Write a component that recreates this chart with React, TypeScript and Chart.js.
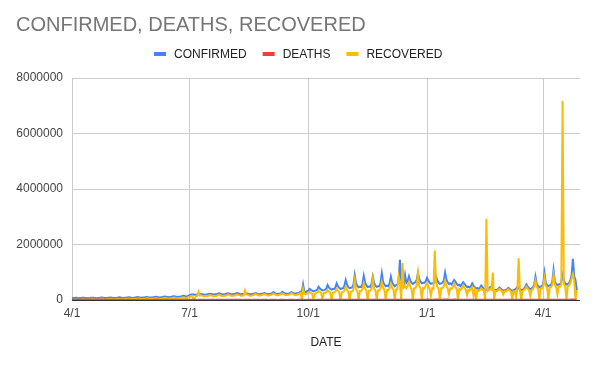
import { useEffect, useRef } from 'react';
import { Chart, registerables } from 'chart.js';

Chart.register(...registerables);

const FONT = '"Liberation Sans", Arial, sans-serif';
const TITLE = 'CONFIRMED, DEATHS, RECOVERED';
const X_TITLE = 'DATE';
const START_DATE = '2020-04-01';
const TICK_DATES = ['2020-04-01', '2020-07-01', '2020-10-01', '2021-01-01', '2021-04-01'];
const TICK_LABELS = ['4/1', '7/1', '10/1', '1/1', '4/1'];
const X_END_DATE = '2021-04-30';
const Y_TICKS = [0, 2000000, 4000000, 6000000, 8000000];
const SERIES_NAMES = ['CONFIRMED', 'DEATHS', 'RECOVERED'];
const SERIES_COLORS = ['#4285F4', '#EA4335', '#FBBC04'];
const UNIT = 1000; // values below are in thousands, one per day from START_DATE

const CONFIRMED_K = [
  62, 70, 75, 80, 72, 65, 68,
  70, 78, 82, 76, 70, 62, 66,
  72, 80, 84, 78, 74, 66, 70,
  75, 82, 88, 80, 73, 68, 72,
  78, 85, 90, 84, 76, 70, 74,
  80, 88, 95, 86, 78, 72, 78,
  84, 92, 98, 90, 82, 76, 82,
  88, 96, 104, 95, 86, 80, 86,
  92, 102, 110, 100, 92, 86, 92,
  98, 108, 118, 108, 98, 92, 100,
  105, 116, 126, 115, 104, 98, 108,
  115, 126, 138, 126, 114, 108, 120,
  128, 140, 155, 142, 130, 124, 150,
  175, 195, 210, 200, 190, 185, 195,
  200, 210, 218, 210, 200, 192, 202,
  205, 215, 225, 216, 205, 196, 206,
  210, 225, 240, 226, 212, 200, 212,
  215, 232, 245, 230, 216, 206, 216,
  218, 235, 248, 232, 218, 208, 218,
  216, 230, 244, 230, 216, 206, 214,
  218, 232, 246, 234, 220, 208, 216,
  222, 236, 250, 236, 224, 212, 220,
  225, 245, 285, 248, 230, 216, 224,
  230, 250, 295, 255, 235, 222, 230,
  235, 255, 280, 258, 240, 230, 240,
  245, 270, 305, 285, 560, 290, 280,
  320, 340, 400, 365, 340, 315, 330,
  345, 375, 480, 415, 375, 345, 355,
  370, 410, 540, 455, 405, 375, 395,
  395, 445, 600, 495, 435, 395, 415,
  425, 515, 720, 555, 475, 425, 445,
  455, 555, 900, 615, 515, 455, 475,
  465, 575, 870, 635, 535, 465, 485,
  475, 575, 840, 615, 525, 475, 495,
  495, 615, 960, 655, 555, 495, 515,
  495, 595, 840, 635, 555, 495, 535,
  555, 695, 1450, 715, 615, 555, 900,
  620, 680, 850, 700, 620, 580, 620,
  640, 720, 970, 760, 660, 600, 620,
  620, 680, 800, 700, 620, 580, 600,
  600, 660, 840, 700, 620, 580, 600,
  620, 700, 990, 740, 640, 580, 600,
  560, 640, 720, 660, 580, 530, 550,
  500, 560, 640, 580, 520, 470, 480,
  450, 500, 600, 520, 470, 420, 430,
  400, 440, 520, 460, 410, 370, 380,
  370, 410, 470, 420, 380, 350, 360,
  360, 400, 450, 410, 370, 340, 350,
  350, 390, 440, 400, 360, 330, 350,
  370, 420, 480, 430, 390, 350, 370,
  400, 460, 560, 480, 420, 390, 410,
  450, 540, 840, 580, 500, 460, 480,
  500, 580, 970, 620, 540, 500, 520,
  540, 640, 1080, 680, 580, 540, 560,
  560, 660, 900, 700, 600, 560, 580,
  600, 720, 900, 1480, 850, 720, 360,
];

const DEATHS_K = [
  5, 6, 7, 7, 6, 5, 5,
  6, 7, 8, 8, 7, 6, 5,
  6, 7, 8, 8, 7, 6, 5,
  5, 6, 7, 7, 6, 5, 4,
  4, 5, 6, 6, 5, 4, 4,
  4, 5, 6, 5, 5, 4, 4,
  4, 5, 5, 5, 4, 4, 3,
  4, 5, 5, 5, 4, 4, 3,
  4, 5, 5, 5, 4, 4, 3,
  4, 5, 6, 5, 5, 4, 4,
  4, 5, 6, 5, 5, 4, 4,
  4, 5, 6, 6, 5, 4, 4,
  4, 6, 6, 6, 5, 4, 4,
  5, 6, 6, 6, 5, 4, 4,
  5, 6, 7, 6, 5, 5, 4,
  5, 6, 7, 6, 6, 5, 4,
  5, 6, 7, 7, 6, 5, 4,
  5, 6, 7, 7, 6, 5, 5,
  5, 6, 7, 7, 6, 5, 4,
  5, 6, 7, 6, 6, 5, 4,
  5, 6, 7, 6, 6, 5, 4,
  5, 6, 6, 6, 5, 4, 4,
  5, 6, 6, 6, 5, 4, 4,
  5, 6, 6, 6, 5, 4, 4,
  5, 6, 6, 6, 5, 4, 4,
  5, 6, 6, 6, 5, 4, 4,
  5, 6, 7, 6, 5, 5, 4,
  5, 6, 7, 7, 6, 5, 4,
  5, 6, 7, 7, 6, 5, 5,
  6, 7, 8, 7, 7, 5, 5,
  6, 8, 9, 9, 8, 6, 6,
  7, 9, 11, 11, 10, 8, 7,
  8, 10, 12, 11, 10, 8, 7,
  8, 10, 12, 12, 11, 8, 7,
  8, 11, 12, 12, 11, 8, 8,
  9, 12, 13, 13, 12, 9, 8,
  9, 12, 13, 13, 12, 9, 8,
  9, 12, 13, 12, 11, 8, 7,
  8, 11, 12, 12, 11, 8, 7,
  9, 13, 15, 14, 13, 10, 9,
  10, 14, 16, 15, 14, 10, 9,
  10, 14, 17, 16, 14, 10, 9,
  9, 13, 15, 14, 13, 9, 8,
  8, 12, 13, 12, 11, 8, 7,
  7, 10, 11, 11, 10, 7, 6,
  7, 9, 10, 10, 9, 6, 6,
  6, 9, 10, 9, 8, 6, 5,
  6, 9, 9, 9, 8, 6, 5,
  6, 9, 9, 9, 8, 6, 5,
  6, 9, 10, 9, 8, 6, 5,
  7, 9, 10, 10, 9, 7, 6,
  7, 10, 11, 11, 10, 7, 6,
  7, 11, 12, 11, 10, 8, 7,
  8, 12, 13, 12, 11, 8, 7,
  8, 12, 13, 13, 12, 9, 8,
  9, 13, 14, 14, 12, 9, 8,
];

const RECOVERED_K = [
  10, 12, 15, 18, 14, 10, 12,
  15, 18, 22, 20, 16, 12, 15,
  18, 22, 26, 24, 20, 15, 18,
  20, 25, 30, 28, 22, 18, 22,
  25, 30, 36, 32, 26, 20, 25,
  28, 34, 40, 36, 30, 24, 28,
  32, 38, 45, 40, 34, 28, 32,
  36, 44, 52, 46, 38, 30, 36,
  40, 50, 60, 52, 44, 35, 42,
  45, 56, 68, 58, 48, 38, 46,
  52, 64, 76, 66, 55, 44, 52,
  60, 72, 88, 75, 62, 50, 60,
  70, 85, 100, 90, 75, 40, 110,
  110, 130, 150, 40, 20, 140, 150,
  300, 160, 170, 150, 140, 130, 150,
  140, 160, 175, 160, 145, 130, 145,
  150, 170, 190, 170, 150, 135, 150,
  155, 175, 195, 180, 160, 145, 160,
  160, 180, 200, 185, 165, 150, 165,
  165, 340, 200, 185, 165, 150, 165,
  170, 190, 210, 195, 175, 155, 170,
  175, 195, 215, 200, 180, 160, 175,
  180, 200, 230, 210, 185, 165, 180,
  185, 210, 240, 215, 190, 170, 185,
  190, 215, 245, 220, 195, 175, 190,
  200, 230, 260, 30, 400, 220, 210,
  220, 250, 290, 260, 230, 40, 230,
  240, 270, 320, 290, 250, 30, 250,
  250, 290, 350, 310, 270, 20, 260,
  270, 310, 400, 330, 280, 20, 280,
  290, 340, 480, 360, 300, 10, 300,
  310, 380, 720, 400, 320, 10, 320,
  320, 400, 600, 420, 340, 10, 330,
  330, 400, 760, 420, 340, 10, 340,
  340, 420, 650, 440, 360, 10, 360,
  350, 420, 580, 440, 370, 10, 380,
  380, 850, 600, 20, 1330, 450, 500,
  420, 500, 650, 480, 400, 10, 420,
  430, 520, 970, 500, 420, 10, 430,
  420, 500, 600, 480, 400, 150, 420,
  400, 1780, 620, 480, 400, 10, 420,
  420, 500, 700, 500, 420, 200, 420,
  400, 470, 600, 470, 400, 10, 400,
  360, 420, 520, 430, 370, 180, 370,
  340, 390, 460, 150, 350, 10, 350,
  320, 360, 420, 370, 330, 10, 2930,
  320, 360, 410, 370, 990, 10, 330,
  310, 350, 400, 360, 320, 200, 320,
  300, 340, 390, 350, 310, 10, 310,
  320, 100, 410, 1500, 330, 10, 330,
  350, 400, 480, 410, 360, 150, 360,
  390, 460, 700, 480, 400, 10, 400,
  420, 500, 800, 520, 440, 10, 440,
  460, 540, 900, 560, 470, 200, 480,
  480, 560, 7170, 580, 500, 10, 500,
  520, 600, 780, 940, 700, 20, 360,
];

const SERIES_VALUES = [CONFIRMED_K, DEATHS_K, RECOVERED_K];
const SERIES_ORDER = [2, 0, 1];

function dayOf(date: string): number {
  const [y, m, d] = date.split('-').map(Number);
  const [sy, sm, sd] = START_DATE.split('-').map(Number);
  return Math.round((Date.UTC(y, m - 1, d) - Date.UTC(sy, sm - 1, sd)) / 86400000);
}

const TICK_DAYS = TICK_DATES.map(dayOf);

const headerPlugin = {
  id: 'header',
  afterDraw(chart: any) {
    const ctx = chart.ctx as CanvasRenderingContext2D;
    ctx.save();
    ctx.textAlign = 'left';
    ctx.textBaseline = 'alphabetic';
    ctx.font = `20px ${FONT}`;
    ctx.fillStyle = '#757575';
    ctx.fillText(TITLE, 16, 31);

    ctx.font = `12px ${FONT}`;
    const box = 12;
    const gapText = 8;
    const gapItems = 16;
    const widths = SERIES_NAMES.map((n) => ctx.measureText(n).width);
    const total =
      widths.reduce((a, w) => a + box + gapText + w, 0) + gapItems * (SERIES_NAMES.length - 1);
    let x = Math.round(chart.width / 2 + 1 - total / 2);
    SERIES_NAMES.forEach((name, i) => {
      ctx.fillStyle = SERIES_COLORS[i];
      ctx.fillRect(x, 52, box, 4);
      ctx.fillStyle = '#222222';
      ctx.fillText(name, x + box + gapText, 58);
      x += box + gapText + widths[i] + gapItems;
    });
    ctx.restore();
  },
};

export default function App() {
  const ref = useRef<HTMLCanvasElement | null>(null);

  useEffect(() => {
    if (!ref.current) return;
    const tickFont = { family: FONT, size: 12 };
    const chart = new Chart(ref.current, {
      type: 'line',
      data: {
        datasets: SERIES_NAMES.map((name, i) => ({
          label: name,
          data: SERIES_VALUES[i].map((v, d) => ({ x: d, y: v * UNIT })),
          borderColor: SERIES_COLORS[i],
          backgroundColor: SERIES_COLORS[i],
          borderWidth: 2,
          pointRadius: 0,
          tension: 0,
          fill: false,
          order: SERIES_ORDER[i],
        })),
      },
      options: {
        responsive: false,
        animation: false,
        events: [],
        layout: { padding: { top: 78, right: 14, bottom: 0, left: 0 } },
        plugins: {
          legend: { display: false },
          title: { display: false },
          tooltip: { enabled: false },
        },
        scales: {
          x: {
            type: 'linear',
            min: 0,
            max: dayOf(X_END_DATE) - 0.5,
            afterBuildTicks: (s: any) => {
              s.ticks = TICK_DAYS.map((v) => ({ value: v }));
            },
            afterFit: (s: any) => {
              s.height = 67;
            },
            ticks: {
              autoSkip: false,
              maxRotation: 0,
              padding: 6,
              color: '#444444',
              font: tickFont,
              callback: (_v: any, i: number) => TICK_LABELS[i] ?? '',
            },
            grid: { color: '#cccccc', drawTicks: false },
            border: { display: false },
            title: {
              display: true,
              text: X_TITLE,
              color: '#222222',
              font: tickFont,
              padding: { top: 0, bottom: 17 },
            },
          },
          y: {
            min: 0,
            max: Y_TICKS[Y_TICKS.length - 1],
            afterBuildTicks: (s: any) => {
              s.ticks = Y_TICKS.map((v) => ({ value: v }));
            },
            afterFit: (s: any) => {
              s.width = 72;
            },
            ticks: {
              padding: 9,
              color: '#444444',
              font: tickFont,
              callback: (v: any) => String(v),
            },
            grid: {
              color: (c: any) => (c.tick && c.tick.value === 0 ? '#333333' : '#cccccc'),
              drawTicks: false,
            },
            border: { display: false },
          },
        },
      },
      plugins: [headerPlugin],
    });
    return () => chart.destroy();
  }, []);

  return (
    <div style={{ position: 'absolute', left: 0, top: 0, width: 594, height: 367, background: '#fff' }}>
      <canvas ref={ref} width={594} height={367} style={{ width: 594, height: 367 }} />
    </div>
  );
}
